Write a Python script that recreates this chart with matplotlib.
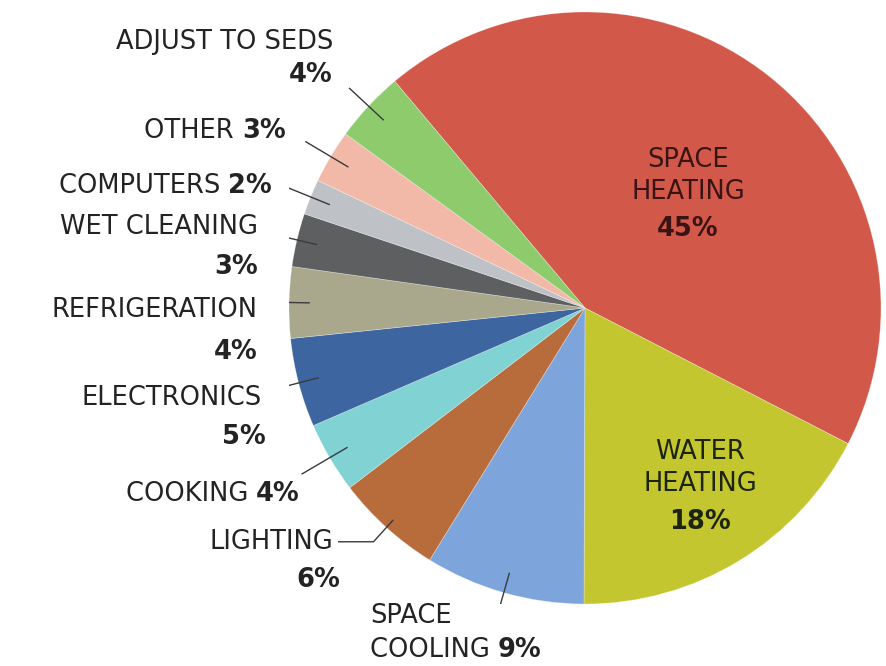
import numpy as np
import matplotlib
matplotlib.use("Agg")
import matplotlib.pyplot as plt

# ---------------- data ----------------
categories = ["SPACE HEATING", "WATER HEATING", "SPACE COOLING", "LIGHTING",
              "COOKING", "ELECTRONICS", "REFRIGERATION", "WET CLEANING",
              "COMPUTERS", "OTHER", "ADJUST TO SEDS"]
shares = [45, 18, 9, 6, 4, 5, 4, 3, 2, 3, 4]
pct_labels = ["45%", "18%", "9%", "6%", "4%", "5%", "4%", "3%", "2%", "3%", "4%"]

colors = ["#D2584A", "#C3C62F", "#7DA5DB", "#B86C3C", "#80D2D3", "#3D65A0",
          "#A9A88C", "#5E5F61", "#BEC2C7", "#F2B9A9", "#8DCB6C"]

# ---------------- layout ----------------
W, H = 886, 666
CX, CY, R = 585, 308, 296
fig = plt.figure(figsize=(W / 100, H / 100), dpi=100)
ax = fig.add_axes([(CX - R) / W, (H - CY - R) / H, 2 * R / W, 2 * R / H])
ax.set_xlim(-1, 1)
ax.set_ylim(-1, 1)
ax.set_aspect("equal")
ax.axis("off")

wedges, _ = ax.pie(shares, colors=colors, startangle=130, counterclock=False,
                   radius=1.0, center=(0, 0),
                   wedgeprops=dict(linewidth=0.5, edgecolor="#ffffff60"))
ax.set_xlim(-1, 1)
ax.set_ylim(-1, 1)


def px(x, y):
    return ((x - CX) / R, (CY - y) / R)


FONT = "DejaVu Sans"
TXT = "#232323"
FS = 18.5
NW = "normal"

# leader lines (radial from inside the wedge)
def mid_angle(w):
    return np.deg2rad((w.theta1 + w.theta2) / 2)

line_kw = dict(color="#3a3a3a", lw=1.0, solid_capstyle="butt")
outer_r = {2: 1.07, 4: 1.11, 5: 1.09, 6: 1.07, 7: 1.075, 8: 1.08, 9: 1.1, 10: 1.09}
for i, r_out in outer_r.items():
    a = mid_angle(wedges[i])
    ax.plot([0.93 * np.cos(a), r_out * np.cos(a)],
            [0.93 * np.sin(a), r_out * np.sin(a)], **line_kw)
# lighting: elbow
a = mid_angle(wedges[3])
x0, y0 = 0.965 * np.cos(a), 0.965 * np.sin(a)
x1, y1 = 1.065 * np.cos(a), 1.065 * np.sin(a)
ax.plot([x0, x1, x1 - 0.12], [y0, y1, y1], **line_kw)


def two_line(name, pct, x, y1, y2, ha="right", xpct=None):
    ax.text(*px(x, y1), name, ha=ha, va="center", fontsize=FS, family=FONT,
            color=TXT, fontweight=NW)
    ax.text(*px(xpct if xpct is not None else x, y2), pct, ha=ha, va="center",
            fontsize=FS, family=FONT, color=TXT, fontweight="bold")


def one_line(name, pct, x, y):
    t = ax.text(*px(x, y), pct, ha="right", va="center", fontsize=FS,
                family=FONT, color=TXT, fontweight="bold")
    ax.annotate(name + " ", xy=(0, 0.5), xycoords=t, ha="right", va="center",
                fontsize=FS, family=FONT, color=TXT, fontweight=NW)


two_line(categories[10], pct_labels[10], 333, 42, 75)
one_line(categories[9], pct_labels[9], 286, 131)
one_line(categories[8], pct_labels[8], 272, 186)
two_line(categories[7], pct_labels[7], 258, 227, 267)
two_line(categories[6], pct_labels[6], 258, 310, 352)
two_line(categories[5], pct_labels[5], 262, 398, 437, xpct=266)
one_line(categories[4], pct_labels[4], 300, 494)
two_line(categories[3], pct_labels[3], 333, 542, 580, xpct=340)

# space cooling (left aligned, below pie)
ax.text(*px(370, 616), "SPACE", ha="left", va="center", fontsize=FS,
        family=FONT, color=TXT, fontweight=NW)
t = ax.text(*px(370, 650), "COOLING ", ha="left", va="center", fontsize=FS,
            family=FONT, color=TXT, fontweight=NW)
ax.annotate(pct_labels[2], xy=(1, 0.5), xycoords=t, ha="left", va="center",
            fontsize=FS, family=FONT, color=TXT, fontweight="bold")

# inside labels
for (xx, yy), s, w in [((688, 160), "SPACE", NW), ((688, 192), "HEATING", NW),
                       ((688, 229), pct_labels[0], "bold")]:
    ax.text(*px(xx, yy), s, ha="center", va="center", fontsize=FS,
            family=FONT, color="#3a1414", fontweight=w)
for (xx, yy), s, w in [((700, 452), "WATER", NW), ((700, 484), "HEATING", NW),
                       ((700, 522), pct_labels[1], "bold")]:
    ax.text(*px(xx, yy), s, ha="center", va="center", fontsize=FS,
            family=FONT, color="#1c2410", fontweight=w)

fig.savefig("out.png", dpi=100, facecolor="white")
